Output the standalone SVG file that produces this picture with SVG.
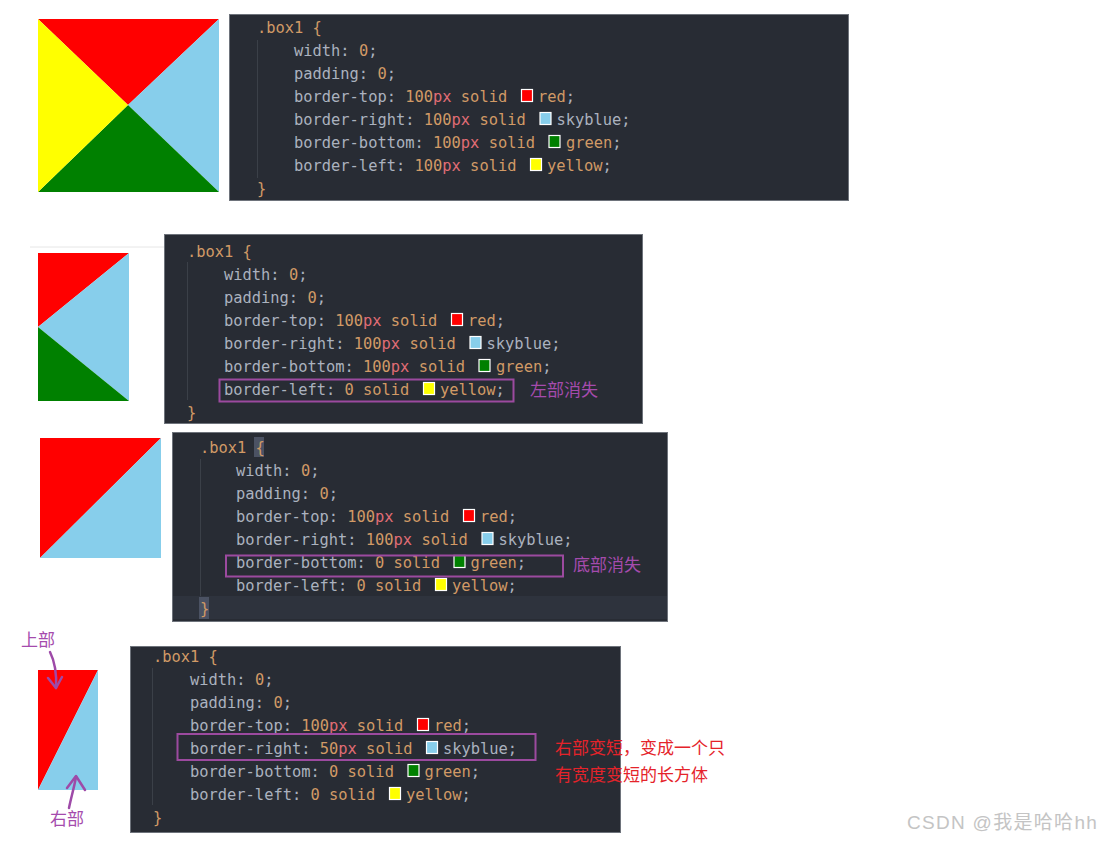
<svg xmlns="http://www.w3.org/2000/svg" width="1105" height="841" viewBox="0 0 1105 841">
<style>
.code{fill:#282c34;stroke:#6e737b;stroke-width:1}
.c{font-family:"DejaVu Sans Mono","Liberation Mono",monospace;font-size:15.4px;fill:#abb2bf;white-space:pre}
.n{fill:#d19a66}
.u{fill:#e06c75}
.sw{stroke:#ffffff;stroke-width:1.2}
.guide{stroke:#3b4048;stroke-width:1}
.hl{fill:none;stroke:#9c4a9f;stroke-width:2}
.pt{font-family:"Noto Sans CJK SC","Noto Sans",sans-serif;font-size:17px;fill:#a54bad}
.rt{font-family:"Noto Sans CJK SC","Noto Sans",sans-serif;font-size:17px;fill:#e5232a}
.arr{fill:none;stroke:#9e4aa8;stroke-width:2.5;stroke-linecap:round;stroke-linejoin:round}
</style>
<rect width="1105" height="841" fill="#ffffff"/>

<!-- shape 1 -->
<g id="shape1">
<polygon points="38,19 219,19 128,105" fill="#ff0000"/>
<polygon points="219,19 219,192 128,105" fill="#87ceeb"/>
<polygon points="38,192 219,192 128,105" fill="#008000"/>
<polygon points="38,19 38,192 128,105" fill="#ffff00"/>
</g>

<g id="code1">
<rect class="code" x="229.5" y="14.5" width="619" height="186"/>
<line class="guide" x1="257.5" y1="40" x2="257.5" y2="178"/>
<text class="c" x="257" y="33"><tspan class="n">.box1 {</tspan></text>
<text class="c" x="294" y="56">width: <tspan class="n">0</tspan>;</text>
<text class="c" x="294" y="79">padding: <tspan class="n">0</tspan>;</text>
<text class="c" x="294" y="102">border-top: <tspan class="n">100</tspan><tspan class="u">px</tspan> <tspan class="n">solid</tspan></text>
<rect class="sw" x="521.5" y="89.5" width="11" height="12" fill="#ff0000"/>
<text class="c" x="538" y="102"><tspan class="n">red</tspan>;</text>
<text class="c" x="294" y="125">border-right: <tspan class="n">100</tspan><tspan class="u">px</tspan> <tspan class="n">solid</tspan></text>
<rect class="sw" x="540" y="112.5" width="11" height="12" fill="#87ceeb"/>
<text class="c" x="556.5" y="125">skyblue;</text>
<text class="c" x="294" y="148">border-bottom: <tspan class="n">100</tspan><tspan class="u">px</tspan> <tspan class="n">solid</tspan></text>
<rect class="sw" x="549" y="135.5" width="11" height="12" fill="#008000"/>
<text class="c" x="566" y="148"><tspan class="n">green</tspan>;</text>
<text class="c" x="294" y="171">border-left: <tspan class="n">100</tspan><tspan class="u">px</tspan> <tspan class="n">solid</tspan></text>
<rect class="sw" x="530.5" y="158.5" width="11" height="12" fill="#ffff00"/>
<text class="c" x="547" y="171"><tspan class="n">yellow</tspan>;</text>
<text class="c" x="257" y="194"><tspan class="n">}</tspan></text>
</g>

<!-- separator -->
<line x1="30" y1="247" x2="164" y2="247" stroke="#e6e6e6" stroke-width="1"/>

<g id="shape2">
<polygon points="38,253 129,253 38,327" fill="#ff0000"/>
<polygon points="129,253 129,401 38,327" fill="#87ceeb"/>
<polygon points="38,327 38,401 129,401" fill="#008000"/>
</g>

<g id="code2">
<rect class="code" x="164.5" y="234.5" width="478" height="189"/>
<line class="guide" x1="187.5" y1="262" x2="187.5" y2="400"/>
<text class="c" x="187" y="257"><tspan class="n">.box1 {</tspan></text>
<text class="c" x="224" y="280">width: <tspan class="n">0</tspan>;</text>
<text class="c" x="224" y="303">padding: <tspan class="n">0</tspan>;</text>
<text class="c" x="224" y="326">border-top: <tspan class="n">100</tspan><tspan class="u">px</tspan> <tspan class="n">solid</tspan></text>
<rect class="sw" x="451.5" y="313.5" width="11" height="12" fill="#ff0000"/>
<text class="c" x="468" y="326"><tspan class="n">red</tspan>;</text>
<text class="c" x="224" y="349">border-right: <tspan class="n">100</tspan><tspan class="u">px</tspan> <tspan class="n">solid</tspan></text>
<rect class="sw" x="470" y="336.5" width="11" height="12" fill="#87ceeb"/>
<text class="c" x="486.5" y="349">skyblue;</text>
<text class="c" x="224" y="372">border-bottom: <tspan class="n">100</tspan><tspan class="u">px</tspan> <tspan class="n">solid</tspan></text>
<rect class="sw" x="479" y="359.5" width="11" height="12" fill="#008000"/>
<text class="c" x="496" y="372"><tspan class="n">green</tspan>;</text>
<text class="c" x="224" y="395">border-left: <tspan class="n">0</tspan> <tspan class="n">solid</tspan></text>
<rect class="sw" x="423.5" y="382.5" width="11" height="12" fill="#ffff00"/>
<text class="c" x="440" y="395"><tspan class="n">yellow</tspan>;</text>
<text class="c" x="187" y="418"><tspan class="n">}</tspan></text>
<rect class="hl" x="219.5" y="379.5" width="294" height="22"/>
<text class="pt" x="530" y="396">左部消失</text>
</g>

<g id="shape3">
<polygon points="40,438 161,438 40,558" fill="#ff0000"/>
<polygon points="161,438 161,558 40,558" fill="#87ceeb"/>
</g>

<g id="code3">
<rect class="code" x="172.5" y="432.5" width="495" height="189"/>
<rect x="173" y="596" width="494" height="23" fill="#2e333d"/>
<rect x="254" y="437" width="10" height="20" fill="#4b5263"/>
<rect x="199" y="597" width="10" height="22" fill="#4b5263"/>
<line class="guide" x1="200.5" y1="459" x2="200.5" y2="596" stroke="#4b5263"/>
<text class="c" x="200" y="453"><tspan class="n">.box1 {</tspan></text>
<text class="c" x="236" y="476">width: <tspan class="n">0</tspan>;</text>
<text class="c" x="236" y="499">padding: <tspan class="n">0</tspan>;</text>
<text class="c" x="236" y="522">border-top: <tspan class="n">100</tspan><tspan class="u">px</tspan> <tspan class="n">solid</tspan></text>
<rect class="sw" x="463.5" y="509.5" width="11" height="12" fill="#ff0000"/>
<text class="c" x="480" y="522"><tspan class="n">red</tspan>;</text>
<text class="c" x="236" y="545">border-right: <tspan class="n">100</tspan><tspan class="u">px</tspan> <tspan class="n">solid</tspan></text>
<rect class="sw" x="482" y="532.5" width="11" height="12" fill="#87ceeb"/>
<text class="c" x="498.5" y="545">skyblue;</text>
<text class="c" x="236" y="568">border-bottom: <tspan class="n">0</tspan> <tspan class="n">solid</tspan></text>
<rect class="sw" x="454" y="555.5" width="11" height="12" fill="#008000"/>
<text class="c" x="470.5" y="568"><tspan class="n">green</tspan>;</text>
<text class="c" x="236" y="591">border-left: <tspan class="n">0</tspan> <tspan class="n">solid</tspan></text>
<rect class="sw" x="435.5" y="578.5" width="11" height="12" fill="#ffff00"/>
<text class="c" x="452" y="591"><tspan class="n">yellow</tspan>;</text>
<text class="c" x="200" y="614"><tspan class="n">}</tspan></text>
<rect class="hl" x="226" y="555.5" width="337" height="21"/>
<text class="pt" x="573" y="571">底部消失</text>
</g>

<g id="shape4">
<polygon points="38,670 98,670 38,790" fill="#ff0000"/>
<polygon points="98,670 98,790 38,790" fill="#87ceeb"/>
</g>

<g id="code4">
<rect class="code" x="130.5" y="646.5" width="490" height="186"/>
<line class="guide" x1="152.5" y1="668" x2="152.5" y2="805"/>
<text class="c" x="153" y="662"><tspan class="n">.box1 {</tspan></text>
<text class="c" x="190" y="685">width: <tspan class="n">0</tspan>;</text>
<text class="c" x="190" y="708">padding: <tspan class="n">0</tspan>;</text>
<text class="c" x="190" y="731">border-top: <tspan class="n">100</tspan><tspan class="u">px</tspan> <tspan class="n">solid</tspan></text>
<rect class="sw" x="417.5" y="718.5" width="11" height="12" fill="#ff0000"/>
<text class="c" x="434" y="731"><tspan class="n">red</tspan>;</text>
<text class="c" x="190" y="754">border-right: <tspan class="n">50</tspan><tspan class="u">px</tspan> <tspan class="n">solid</tspan></text>
<rect class="sw" x="426.5" y="741.5" width="11" height="12" fill="#87ceeb"/>
<text class="c" x="443" y="754">skyblue;</text>
<text class="c" x="190" y="777">border-bottom: <tspan class="n">0</tspan> <tspan class="n">solid</tspan></text>
<rect class="sw" x="408" y="764.5" width="11" height="12" fill="#008000"/>
<text class="c" x="424.5" y="777"><tspan class="n">green</tspan>;</text>
<text class="c" x="190" y="800">border-left: <tspan class="n">0</tspan> <tspan class="n">solid</tspan></text>
<rect class="sw" x="389.5" y="787.5" width="11" height="12" fill="#ffff00"/>
<text class="c" x="406" y="800"><tspan class="n">yellow</tspan>;</text>
<text class="c" x="153" y="823"><tspan class="n">}</tspan></text>
<rect class="hl" x="177.5" y="734" width="358" height="26"/>
<text class="rt" x="555" y="754">右部变短，变成一个只</text>
<text class="rt" x="555" y="781">有宽度变短的长方体</text>
</g>

<g id="labels">
<text class="pt" x="21" y="646">上部</text>
<text class="pt" x="50" y="825">右部</text>
</g>

<g id="connectors">
<path class="arr" d="M50 652 C54 660 57 670 56 688"/>
<path class="arr" d="M48 678 L56 688 L62 677"/>
<path class="arr" d="M69 808 C71 798 74 788 76 777"/>
<path class="arr" d="M67 788 L76 776 L85 790"/>
</g>

<text x="907" y="829" font-family="'Liberation Sans','Noto Sans CJK SC',sans-serif" font-size="19" letter-spacing="1.3" fill="#c4c4c4">CSDN @我是哈哈hh</text>
</svg>
